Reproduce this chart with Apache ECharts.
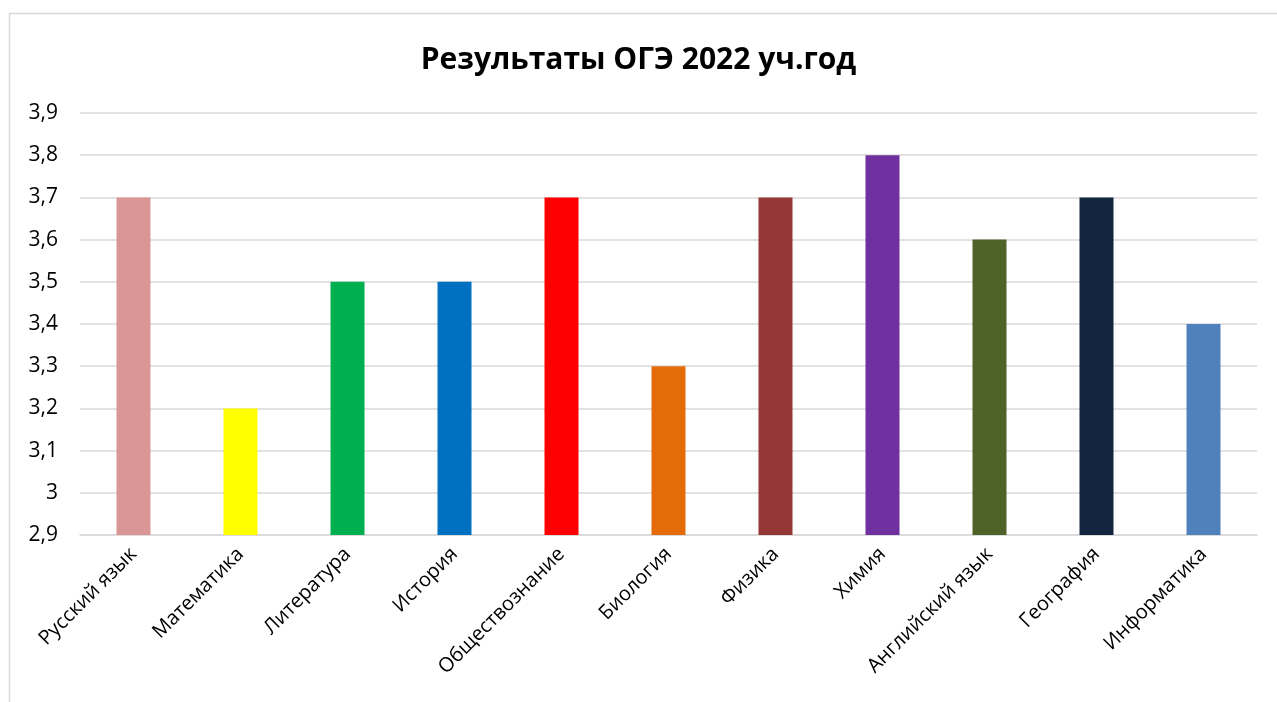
<!DOCTYPE html>
<html><head><meta charset="utf-8">
<script src="https://cdn.jsdelivr.net/npm/echarts@6/dist/echarts.min.js"></script>
<style>html,body{margin:0;padding:0;background:#fff}#c{width:1277px;height:702px}</style>
</head><body><div id="c"></div>
<script>
const categories = ['Русский язык','Математика','Литература','История','Обществознание','Биология','Физика','Химия','Английский язык','География','Информатика'];
const values = [3.7,3.2,3.5,3.5,3.7,3.3,3.7,3.8,3.6,3.7,3.4];
const colors = ['#D99694','#FFFF00','#00B050','#0070C0','#FF0000','#E36C09','#953735','#7030A0','#4F6228','#12263F','#4F81BD'];
const FONT = '"Open Sans", "Noto Sans", sans-serif';
const chart = echarts.init(document.getElementById('c'));
chart.setOption({
  animation:false,
  title:{text:'Результаты ОГЭ 2022 уч.год',left:'center',top:40,
    textStyle:{fontFamily:FONT,fontSize:30,fontWeight:'bold',color:'#000'}},
  graphic:[{type:'rect',shape:{x:9.5,y:13.5,width:1300,height:800},
    style:{fill:'none',stroke:'#d9d9d9',lineWidth:1.5},silent:true}],
  grid:{left:80,right:20,top:113,bottom:167,containLabel:false},
  xAxis:{type:'category',data:categories,
    axisLine:{show:true,lineStyle:{color:'#d9d9d9',width:1.5}},
    axisTick:{show:false},
    axisLabel:{rotate:45,interval:0,margin:16,fontFamily:FONT,fontSize:20,color:'#000'}},
  yAxis:{type:'value',min:2.9,max:3.9,interval:0.1,
    axisLine:{show:false},axisTick:{show:false},
    splitLine:{lineStyle:{color:'#d9d9d9',width:1.5}},
    axisLabel:{margin:22,fontFamily:FONT,fontSize:21,color:'#000',
      formatter:v=>String(Math.round(v*10)/10).replace('.',',')}},
  series:[{type:'bar',barWidth:34,
    data:values.map((v,i)=>({value:v,itemStyle:{color:colors[i]}}))}]
});
</script></body></html>
